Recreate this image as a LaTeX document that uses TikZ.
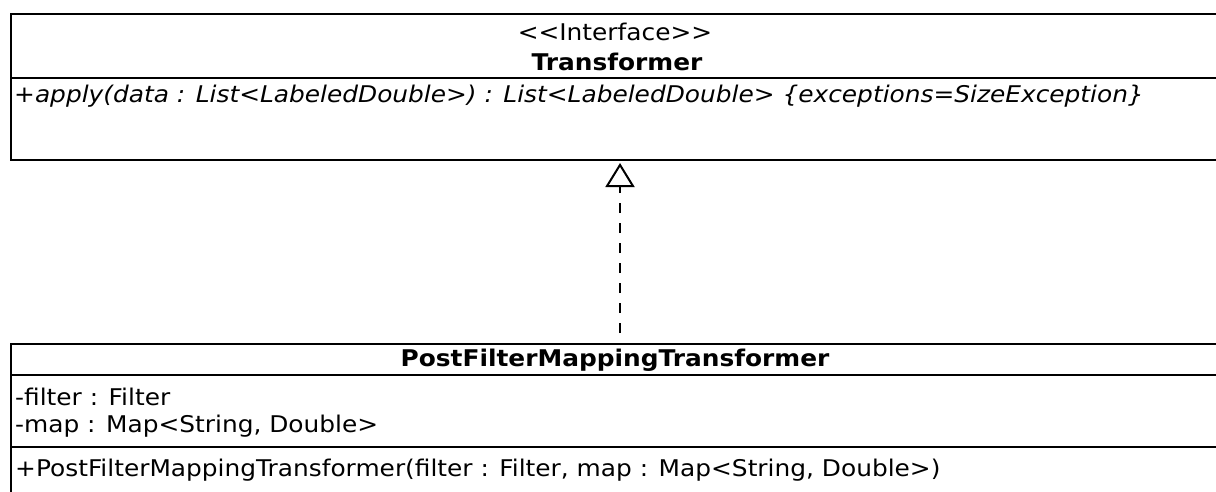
\documentclass[tikz,border=0pt]{standalone}
\usepackage{fontspec}
\setmainfont{DejaVu Sans}[FakeStretch=1.08]
\usetikzlibrary{arrows.meta}
\tikzset{
  classbox/.style={draw, line width=2pt, anchor=north west, inner sep=0pt,
                   minimum width=1225pt},
  sep/.style={line width=2pt},
  txt/.style={inner sep=0pt, font=\fontsize{23}{27}\selectfont},
  member/.style={txt, anchor=base west},
  title/.style={txt, anchor=base},
  realize/.style={line width=2pt, dash pattern=on 10pt off 10pt, dash phase=10pt,
                  -{Triangle[open, length=24pt, width=29pt, line width=2pt]}},
}
\begin{document}
\begin{tikzpicture}[x=1pt, y=-1pt]
\useasboundingbox (0,0) rectangle (1216,491);
\clip (0,0) rectangle (1216,491);
\fill[white] (0,0) rectangle (1216,491);

% interface Transformer
\node[classbox, minimum height=146pt] (iface) at (10,13) {};
\node[title] (ifstereo) at (615,40) {{<}{<}Interface{>}{>}};
\node[title, font=\fontsize{23}{27}\selectfont\bfseries] (ifname) at (617,70) {Transformer};
\draw[sep] (10,78) -- (1235,78);
\node[member, font=\fontsize{23}{27}\selectfont\itshape] (ifop) at (14,102)
  {+apply(data : List<LabeledDouble>) : List<LabeledDouble> \{exceptions=SizeException\}};

% class PostFilterMappingTransformer
\node[classbox, minimum height=170pt] (pfmt) at (10,343) {};
\node[title, font=\fontsize{23}{27}\selectfont\bfseries] (pfname) at (615,366) {PostFilterMappingTransformer};
\draw[sep] (10,375) -- (1235,375);
\node[member] (attr1) at (15,405) {-filter : Filter};
\node[member] (attr2) at (15,432) {-map : Map<String, Double>};
\draw[sep] (10,447) -- (1235,447);
\node[member] (ctor) at (15,476)
  {+PostFilterMappingTransformer(filter : Filter, map : Map<String, Double>)};

% realization
\coordinate (src) at (620,343);
\coordinate (tgt) at (620,163);
\draw[realize] (src) -- (tgt);
\end{tikzpicture}
\end{document}
